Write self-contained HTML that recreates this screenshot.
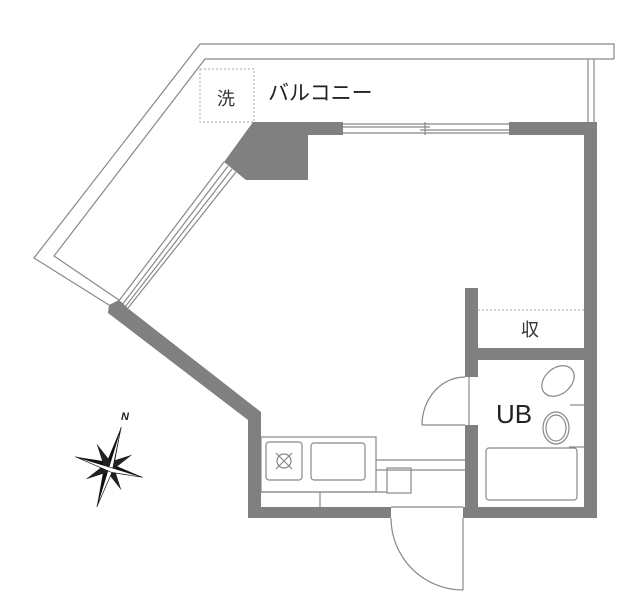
<!DOCTYPE html>
<html><head><meta charset="utf-8"><style>body{margin:0;background:#fff}svg{display:block}</style></head>
<body>
<svg width="640" height="596" viewBox="0 0 640 596" xmlns="http://www.w3.org/2000/svg" font-family="Liberation Sans, Noto Sans CJK JP, sans-serif">
<g fill="none" stroke="#888" stroke-width="1.2">
<!-- balcony -->
<polyline points="614,59 614,44 200,44 34,258 109,305"/>
<polyline points="614,59 205,59 54,256 119,300"/>
<line x1="588" y1="59" x2="588" y2="122"/><line x1="594" y1="59" x2="594" y2="122"/>
<!-- top window -->
<line x1="343" y1="124" x2="509" y2="124"/><line x1="343" y1="133" x2="509" y2="133"/>
<line x1="343" y1="127" x2="430" y2="127"/><line x1="420" y1="130" x2="509" y2="130"/>
<line x1="425" y1="122" x2="425" y2="135"/>
<!-- diagonal window -->
<line x1="224" y1="162" x2="118" y2="302"/><line x1="236" y1="172" x2="128" y2="308"/>
<line x1="228" y1="166" x2="122" y2="305"/><line x1="232" y1="169" x2="125" y2="307"/>
<!-- kitchen -->
<rect x="261" y="437" width="115" height="55"/>
<rect x="266" y="442" width="36" height="38" rx="3"/>
<rect x="311" y="443" width="54" height="37" rx="3"/>
<circle cx="284" cy="461" r="7"/>
<path d="M276,453 L292,469 M292,453 L276,469"/>
<polyline points="376,460 465,460"/><polyline points="376,470 465,470"/>
<rect x="387" y="468" width="24" height="25"/>
<line x1="261" y1="492" x2="387" y2="492"/><line x1="320" y1="492" x2="320" y2="507"/>
<line x1="391" y1="507" x2="463" y2="507"/>
<!-- entry door -->
<line x1="463" y1="518" x2="463" y2="590"/>
<path d="M391,518 A72,72 0 0 0 463,590"/>
<!-- bath door -->
<line x1="422" y1="425" x2="465" y2="425"/>
<path d="M422,425 A43,48 0 0 1 465,377"/>
<line x1="469" y1="377" x2="469" y2="425"/>
<!-- bath fixtures -->
<rect x="486" y="448" width="91" height="52" rx="3"/>
<ellipse cx="558" cy="381" rx="13" ry="18" transform="rotate(50 558 381)"/>
<ellipse cx="556" cy="428" rx="13" ry="16"/><ellipse cx="556" cy="428" rx="10" ry="13"/>
<line x1="570" y1="405" x2="585" y2="405"/><line x1="569" y1="447" x2="585" y2="447"/>
</g>
<g fill="none" stroke="#aaa" stroke-width="1" stroke-dasharray="2,2">
<rect x="200" y="69" width="54" height="53"/>
<line x1="478" y1="310" x2="584" y2="310"/>
</g>
<!-- walls -->
<g fill="#808080">
<polygon points="253,122 343,122 343,135 308,135 308,180 246,180 224,162"/>
<rect x="509" y="122" width="88" height="13"/>
<rect x="584" y="122" width="13" height="396"/>
<polygon points="109,305 119,300 130,310 261,412 261,518 248,518 248,420 108,313"/>
<rect x="248" y="507" width="143" height="11"/>
<rect x="463" y="507" width="134" height="11"/>
<rect x="465" y="288" width="13" height="89"/>
<rect x="465" y="425" width="13" height="93"/>
<rect x="478" y="348" width="106" height="12"/>
</g>
<!-- compass -->
<g transform="translate(109,467) rotate(17) scale(1.1)">
<polygon points="0,-38 4,-4 0,38 -4,4" fill="#111"/>
<polygon points="-32,0 -4,-4 32,0 4,4" fill="#111"/>
<polygon points="-17,-17 3,-3 17,17 -3,3" fill="#222"/>
<polygon points="17,-17 3,3 -17,17 -3,-3" fill="#222"/>
<polygon points="0,-38 0,38 4,4" fill="#fff" stroke="#111" stroke-width="0.6"/>
<polygon points="-32,0 32,0 4,4" fill="#fff" stroke="#111" stroke-width="0.6"/>
</g>
<text x="121" y="420" font-size="11" font-style="italic" font-weight="bold" fill="#222">N</text>
<!-- labels -->
<text x="217" y="105" font-size="18" fill="#333">洗</text>
<text x="268" y="100" font-size="21" fill="#222">バルコニー</text>
<text x="521" y="336" font-size="18" fill="#333">収</text>
<text x="496" y="423" font-size="26" fill="#222">UB</text>
</svg>
</body></html>
